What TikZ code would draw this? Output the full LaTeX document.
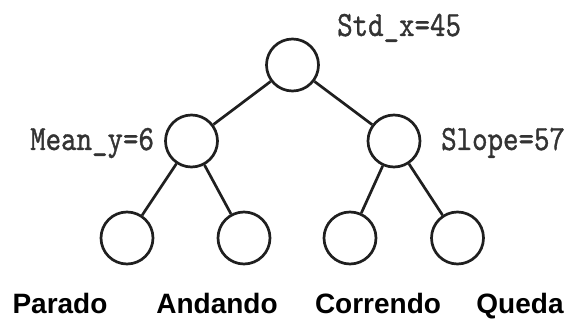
\documentclass[tikz,border=0pt]{standalone}
\usepackage{fontspec}
\setsansfont{Liberation Sans}
\newfontfamily\splitfont{lmmono10-regular.otf}[FakeStretch=0.83,FakeBold=1]
\begin{document}
\begin{tikzpicture}[x=1pt,y=-1pt,
  treenode/.style={circle,draw=black!88,line width=2.7pt,minimum size=52pt,inner sep=0pt},
  edge/.style={draw=black!88,line width=2.7pt},
  splitlabel/.style={font=\splitfont\fontsize{35.5}{36}\selectfont,inner sep=0pt,text=black!80},
  classlabel/.style={font=\sffamily\bfseries\fontsize{28}{30}\selectfont,inner sep=0pt,anchor=base}]
\useasboundingbox (0,0) rectangle (567,320);
% decision tree
\node[treenode] (root) at (292.5,65) {};
\node[treenode] (l) at (191.5,141) {};
\node[treenode] (r) at (394,141) {};
\node[treenode] (ll) at (127,238) {};
\node[treenode] (lr) at (244,238) {};
\node[treenode] (rl) at (350,238) {};
\node[treenode] (rr) at (457.5,238) {};
\draw[edge] (root) -- (l);
\draw[edge] (root) -- (r);
\draw[edge] (l) -- (ll);
\draw[edge] (l) -- (lr);
\draw[edge] (r) -- (rl);
\draw[edge] (r) -- (rr);
% split conditions
\node[splitlabel,anchor=base west] (troot) at (337,36) {Std\_x=45};
\node[splitlabel,anchor=base west] (tl) at (30,150) {Mean\_y=6};
\node[splitlabel,anchor=base west] (tr) at (441,150) {Slope=57};
% classes
\node[classlabel] (c1) at (60,313) {Parado};
\node[classlabel] (c2) at (217,313) {Andando};
\node[classlabel] (c3) at (378,313) {Correndo};
\node[classlabel] (c4) at (520,313) {Queda};
\end{tikzpicture}
\end{document}
